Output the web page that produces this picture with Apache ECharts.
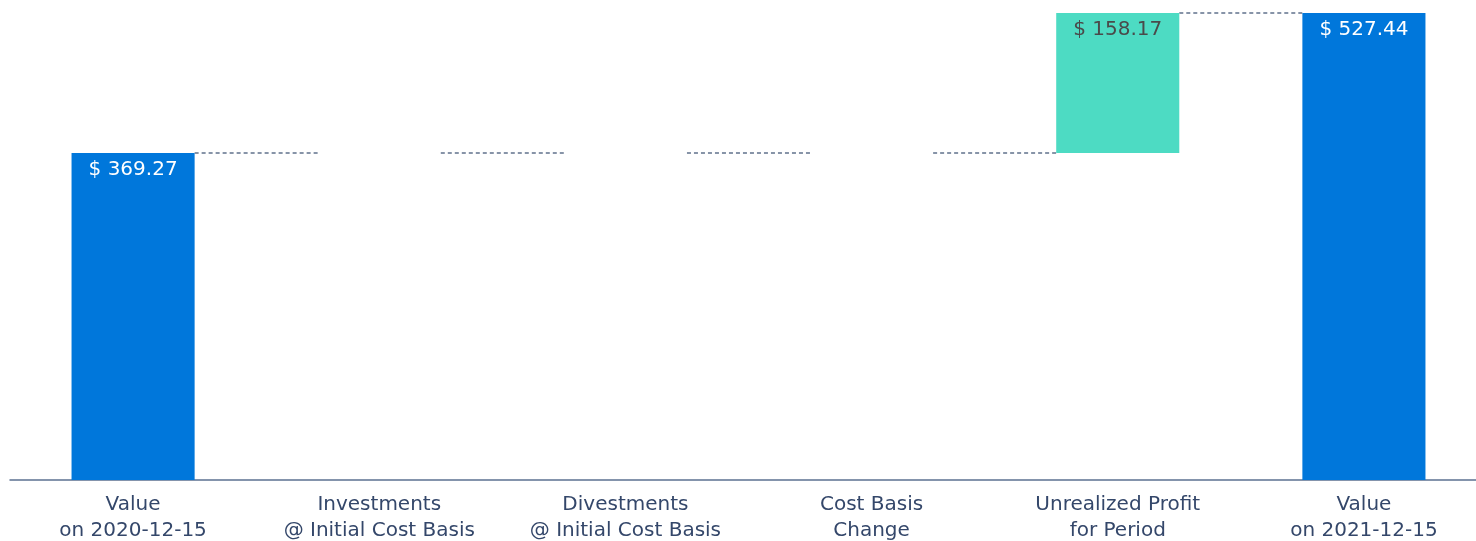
<!DOCTYPE html>
<html>
<head>
<meta charset="utf-8">
<script src="https://cdn.jsdelivr.net/npm/echarts@6/dist/echarts.min.js"></script>
<style>
  html, body { margin: 0; padding: 0; background: #fff; }
  #chart { width: 1476px; height: 541px; }
</style>
</head>
<body>
<div id="chart"></div>
<script>
// categories and values of the waterfall
const categories = [
    'Value\non 2020-12-15',
    'Investments\n@ Initial Cost Basis',
    'Divestments\n@ Initial Cost Basis',
    'Cost Basis\nChange',
    'Unrealized Profit\nfor Period',
    'Value\non 2021-12-15'
]
const deltas = [369.27, 0, 0, 0, 158.17, 527.44]
const isTotal = [true, false, false, false, false, true]

const BLUE = '#0077db'
const TEAL = '#4ddbc3'

// running totals -> invisible base + visible step
let running = 0
const baseValues = []
const levels = []
deltas.forEach((d, i) => {
    if (isTotal[i]) {
        baseValues.push(0)
        running = d
    } else {
        baseValues.push(running)
        running += d
    }
    levels.push(running)
})

const stepData = deltas.map((d, i) => ({
    value: d,
    itemStyle: { color: isTotal[i] ? BLUE : TEAL },
    label: { color: isTotal[i] ? '#ffffff' : '#4a4a4a' }
}))

// connectors from each bar to the next
const connectorData = levels.slice(0, -1).map((lv, i) => [i, lv])

const chart = echarts.init(document.getElementById('chart'))
chart.setOption({
    animation: false,
    grid: { left: 10, width: 1477, top: 13, bottom: 61, outerBoundsMode: 'none', containLabel: false },
    xAxis: {
        type: 'category',
        data: categories,
        axisTick: { show: false },
        axisLine: { lineStyle: { color: '#5c7191', width: 1.5 } },
        axisLabel: {
            color: '#34476a',
            fontFamily: 'DejaVu Sans',
            fontSize: 20,
            lineHeight: 26,
            margin: 12,
            interval: 0
        }
    },
    yAxis: {
        type: 'value',
        min: 0,
        max: 527.44,
        show: false,
        splitLine: { show: false }
    },
    series: [
        {
            type: 'bar',
            stack: 'wf',
            data: baseValues,
            barWidth: '50%',
            itemStyle: { color: 'transparent' },
            silent: true
        },
        {
            type: 'bar',
            stack: 'wf',
            data: stepData,
            barWidth: '50%',
            label: {
                show: true,
                position: 'insideTop',
                distance: 7,
                fontFamily: 'DejaVu Sans',
                fontSize: 20,
                formatter: p => p.value ? '$ ' + p.value.toFixed(2) : ''
            }
        },
        {
            type: 'custom',
            data: connectorData,
            clip: false,
            silent: true,
            z: 1,
            renderItem: function (params, api) {
                const pt = api.coord([api.value(0), api.value(1)])
                const band = api.size([1, 0])[0]
                const bw = band * 0.5
                return {
                    type: 'line',
                    shape: {
                        x1: pt[0] + bw / 2,
                        y1: pt[1],
                        x2: pt[0] + band - bw / 2,
                        y2: pt[1]
                    },
                    style: { stroke: '#8794a8', lineWidth: 2, lineDash: [4, 3] }
                }
            }
        }
    ]
})
</script>
</body>
</html>
